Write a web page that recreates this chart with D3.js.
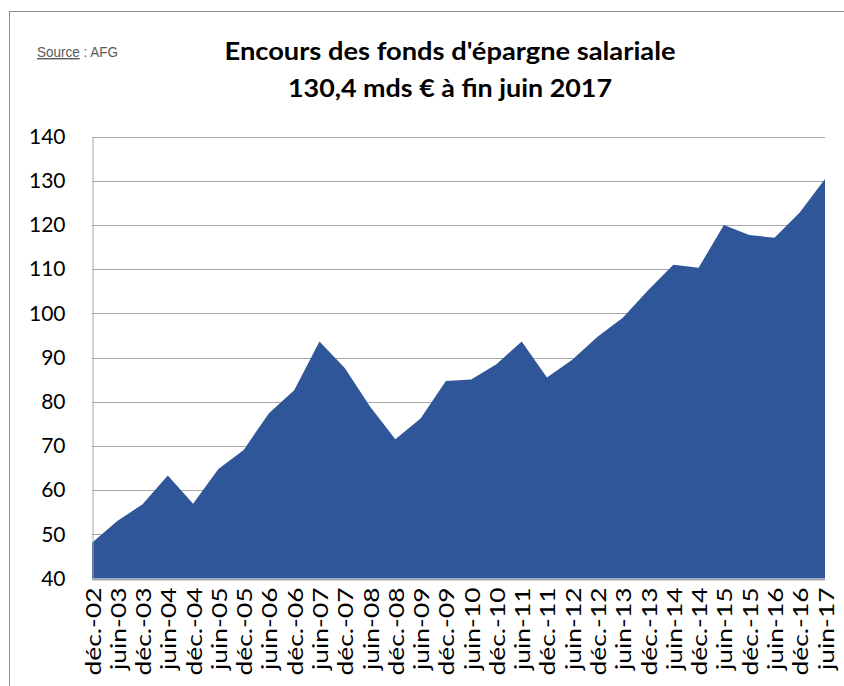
<!DOCTYPE html>
<html lang="fr">

<head>
    <meta charset="UTF-8">
    <title>Encours des fonds d'épargne salariale</title>
    <style>
        body { margin: 0; background: #fff; }
        svg { display: block; }
    </style>
</head>

<body>
    <svg id="chart"></svg>

    <script src="https://d3js.org/d3.v7.min.js"></script>
    <script>
        const periods = ['déc.-02', 'juin-03', 'déc.-03', 'juin-04', 'déc.-04', 'juin-05', 'déc.-05', 'juin-06',
            'déc.-06', 'juin-07', 'déc.-07', 'juin-08', 'déc.-08', 'juin-09', 'déc.-09', 'juin-10', 'déc.-10',
            'juin-11', 'déc.-11', 'juin-12', 'déc.-12', 'juin-13', 'déc.-13', 'juin-14', 'déc.-14', 'juin-15',
            'déc.-15', 'juin-16', 'déc.-16', 'juin-17']
        const encours = [48.1, 53.0, 56.8, 63.3, 56.9, 64.8, 69.1, 77.4, 82.6, 93.6, 87.6, 78.9, 71.5, 76.2, 84.7,
            85.0, 88.5, 93.6, 85.5, 89.5, 94.7, 99.0, 105.2, 111.0, 110.3, 120.0, 117.7, 117.1, 122.8, 130.4]
        const yTicks = [40, 50, 60, 70, 80, 90, 100, 110, 120, 130, 140]
        const titleLines = ["Encours des fonds d'épargne salariale", '130,4 mds € à fin juin 2017']

        const width = 844, height = 686;
        const margin = { top: 136.5, left: 92, right: 19, bottom: 107.5 };

        const svg = d3.select('#chart').attr('width', width).attr('height', height);

        // cadre gris autour du graphique
        svg.append('rect')
            .attr('x', 9.5).attr('y', 11.5)
            .attr('width', 900).attr('height', 900)
            .attr('fill', 'none').attr('stroke', '#8c8c8c');

        const x = d3.scalePoint()
            .domain(periods)
            .range([margin.left, width - margin.right]);

        const y = d3.scaleLinear()
            .domain([40, 140])
            .range([height - margin.bottom, margin.top]);

        // grille horizontale
        svg.append('g')
            .selectAll('line')
            .data(yTicks)
            .join('line')
            .attr('x1', margin.left).attr('x2', width - margin.right)
            .attr('y1', d => Math.round(y(d)) + 0.5).attr('y2', d => Math.round(y(d)) + 0.5)
            .attr('stroke', '#a6a6a6');

        // surface
        const area = d3.area()
            .x((d, i) => x(periods[i]))
            .y0(y(40))
            .y1(d => y(d));

        svg.append('path')
            .attr('d', area(encours))
            .attr('fill', '#30569a');

        // axe Y
        const yAxis = d3.axisLeft(y).tickValues(yTicks).tickSize(0).tickPadding(27);
        svg.append('g')
            .attr('transform', `translate(${margin.left + 0.5},0)`)
            .call(yAxis)
            .call(g => g.select('.domain').attr('stroke', '#a6a6a6'))
            .selectAll('text')
            .attr('font-family', 'Lato, sans-serif')
            .attr('font-size', 21)
            .attr('fill', '#000');

        // axe X
        const xAxis = d3.axisBottom(x).tickSize(0).tickPadding(0);
        svg.append('g')
            .attr('transform', `translate(0,${Math.round(y(40)) + 0.5})`)
            .call(xAxis)
            .call(g => g.select('.domain').attr('stroke', '#a6a6a6'))
            .selectAll('text')
            .attr('font-family', 'Lato, sans-serif')
            .attr('font-size', 22)
            .attr('fill', '#000')
            .attr('text-anchor', 'end')
            .attr('dy', null)
            .attr('y', 0)
            .attr('transform', 'translate(8,8) rotate(-90) scale(1.2,1)');

        // titre
        svg.append('g')
            .selectAll('text')
            .data(titleLines)
            .join('text')
            .attr('x', 450)
            .attr('y', (d, i) => 60 + i * 37)
            .attr('text-anchor', 'middle')
            .attr('font-family', 'Lato, sans-serif')
            .attr('font-weight', 'bold')
            .attr('font-size', 24)
            .attr('textLength', (d, i) => i === 0 ? 451 : 324)
            .attr('lengthAdjust', 'spacingAndGlyphs')
            .text(d => d);

        // source
        const src = svg.append('text')
            .attr('x', 37).attr('y', 57)
            .attr('font-family', 'Liberation Sans, Arial, sans-serif')
            .attr('font-size', 14)
            .attr('fill', '#595959')
            .attr('textLength', 81)
            .attr('lengthAdjust', 'spacingAndGlyphs');
        src.append('tspan').attr('text-decoration', 'underline').text('Source');
        src.append('tspan').text(' : AFG');
    </script>
</body>

</html>
